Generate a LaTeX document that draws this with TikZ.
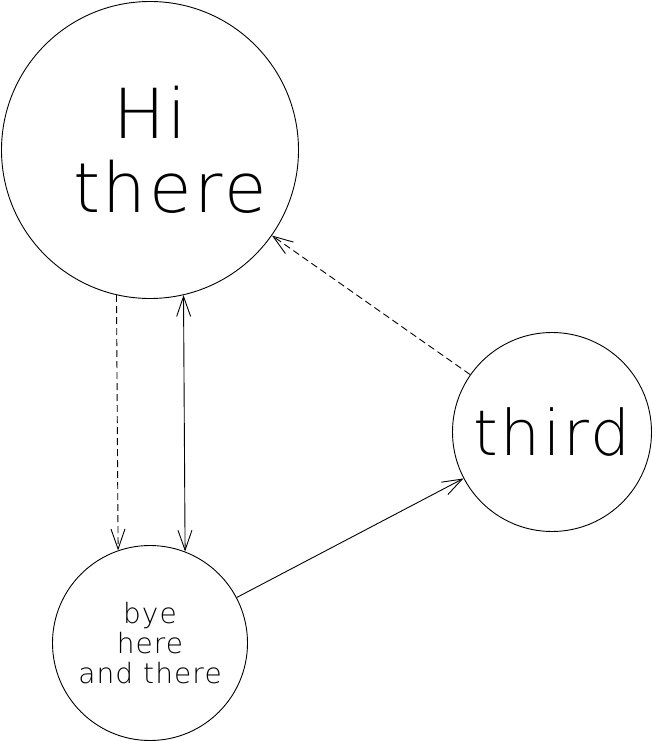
\documentclass[tikz,border=0pt]{standalone}
\usepackage{fontspec}
\newfontfamily\thinfont[LetterSpace=4]{DejaVu Sans ExtraLight}
\usetikzlibrary{arrows.meta,positioning}

\begin{document}
\begin{tikzpicture}[
  x=1pt,
  y=-1pt,
  line width=0.9pt,
  mycircle/.style={
    draw,
    circle,
    inner sep=0pt,
    minimum size=#1,
    align=center
  },
  mybarb/.tip={Straight Barb[length=20pt,width=14pt]},
  myarrow/.style={-mybarb},
  myboth/.style={mybarb-mybarb},
  mydashed/.style={
    dash pattern=on 7pt off 4pt
  }
]
\useasboundingbox (0,0) rectangle (652,741);

\node[mycircle=297pt, font={\thinfont\fontsize{69}{74}\selectfont}]
  at (150,150) (hi) {Hi\\\hspace{40pt}there};
\node[mycircle=199pt, font={\thinfont\fontsize{63}{70}\selectfont}]
  at (552,432) (third) {third};
\node[mycircle=195pt, font={\thinfont\fontsize{28}{30}\selectfont}]
  at (150,643) (bye) {bye\\here\\and there};

% hi <-> bye
\draw[myarrow, mydashed] (hi.257.6) -- (bye.109.3);
\draw[myboth] (hi.283.2) -- (bye.69.6);

% to and from third
\draw[myarrow] (bye) -- (third);
\draw[myarrow, mydashed] (third) -- (hi);

\end{tikzpicture}
\end{document}
